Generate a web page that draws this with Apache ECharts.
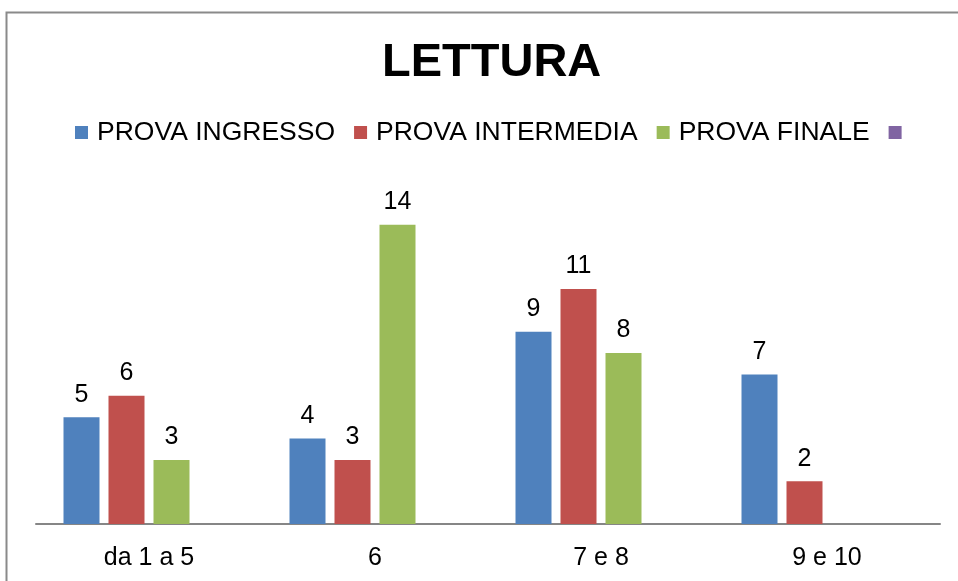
<!DOCTYPE html>
<html>
<head>
<meta charset="utf-8">
<title>LETTURA</title>
<script src="https://cdn.jsdelivr.net/npm/echarts@6/dist/echarts.min.js"></script>
<style>
  html, body { margin: 0; padding: 0; background: #fff; }
  #chart { width: 958px; height: 581px; }
</style>
</head>
<body>
<div id="chart"></div>
<script>
// fasce di voto
const categories = ["da 1 a 5", "6", "7 e 8", "9 e 10"];

const provaIngresso = [5, 4, 9, 7];
const provaIntermedia = [6, 3, 11, 2];
const provaFinale = [3, 14, 8, null];
const serieVuota = [null, null, null, null];

const font = "'Liberation Sans', Arial, sans-serif";

const chart = echarts.init(document.getElementById("chart"), null, { renderer: "canvas" });

const labelStyle = {
  show: true,
  position: "top",
  distance: 10,
  fontSize: 25,
  fontFamily: font,
  color: "#000",
};

const makeSeries = (name, data, color) => ({
  name: name,
  type: "bar",
  data: data,
  barWidth: 36,
  barGap: "25%",
  itemStyle: { color: color },
  label: labelStyle,
});

const option = {
  animation: false,
  backgroundColor: "#fff",
  title: {
    text: "LETTURA",
    left: 377,
    top: 35,
    textStyle: {
      fontSize: 47,
      fontWeight: "bold",
      fontFamily: font,
      color: "#000",
    },
  },
  legend: {
    top: 114,
    left: 70,
    icon: "rect",
    itemWidth: 13,
    itemHeight: 13,
    itemGap: 19,
    textStyle: {
      fontSize: 26.5,
      fontFamily: font,
      color: "#000",
      padding: [0, 0, 0, 4],
    },
    data: ["PROVA INGRESSO", "PROVA INTERMEDIA", "PROVA FINALE", " "],
  },
  graphic: [
    {
      type: "rect",
      shape: { x: 6.5, y: 12.5, width: 980, height: 620 },
      style: { fill: "none", stroke: "#8a8a8a", lineWidth: 2 },
      silent: true,
    },
  ],
  grid: {
    left: 36,
    right: 18,
    top: 182,
    bottom: 57,
  },
  xAxis: {
    type: "category",
    data: categories,
    axisLine: { show: true, lineStyle: { color: "#868686", width: 2 } },
    axisTick: { show: false },
    axisLabel: {
      fontSize: 25,
      fontFamily: font,
      color: "#000",
      margin: 22,
    },
  },
  yAxis: {
    type: "value",
    min: 0,
    max: 16,
    show: false,
  },
  series: [
    makeSeries("PROVA INGRESSO", provaIngresso, "#4F81BD"),
    makeSeries("PROVA INTERMEDIA", provaIntermedia, "#C0504D"),
    makeSeries("PROVA FINALE", provaFinale, "#9BBB59"),
    makeSeries(" ", serieVuota, "#8064A2"),
  ],
};

chart.setOption(option);
</script>
</body>
</html>
